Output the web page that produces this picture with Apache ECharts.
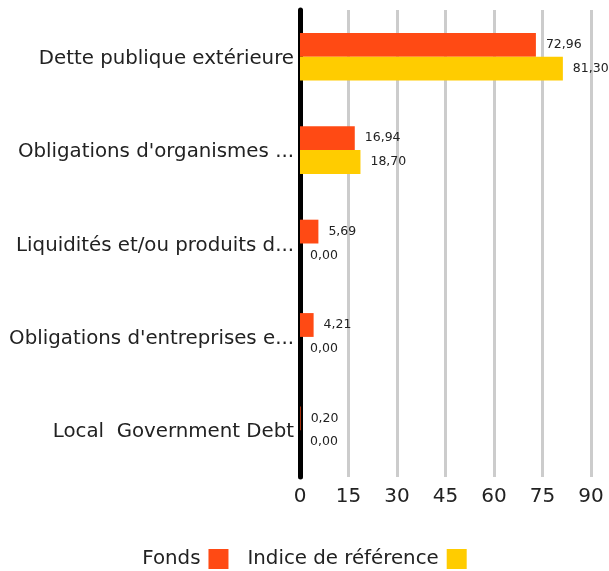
<!DOCTYPE html>
<html><head><meta charset="utf-8">
<script src="https://cdn.jsdelivr.net/npm/echarts@6/dist/echarts.min.js"></script>
<style>html,body{margin:0;padding:0;background:#fff}#c{width:609px;height:571px}</style>
</head><body><div id="c"></div>
<script>
const categories = ["Dette publique extérieure","Obligations d'organismes supranationaux","Liquidités et/ou produits dérivés","Obligations d'entreprises et assimilées","Local  Government Debt"];
const fonds = [72.96, 16.94, 5.69, 4.21, 0.20];
const indice = [81.30, 18.70, 0.00, 0.00, 0.00];
const xTicks = [0, 15, 30, 45, 60, 75, 90];
const seriesNames = ["Fonds", "Indice de référence"];

const font = "'DejaVu Sans', sans-serif";
const chart = echarts.init(document.getElementById('c'), null, {renderer:'canvas'});
const lbl = {show:true, position:'right', distance:10, fontSize:12.5, color:'#222', fontFamily:font,
  formatter: p => p.value.toFixed(2).replace('.', ',')};
chart.setOption({
  animation:false,
  grid:{left:300, right:18, top:10, bottom:94, containLabel:false},
  legend:{bottom:-3, left:'center', padding:[5,5,5,19], align:'right', itemWidth:20, itemHeight:20, itemGap:19,
    icon:'rect', textStyle:{fontSize:19.8, color:'#222', fontFamily:font, padding:[7,3,0,0]}, data:seriesNames},
  xAxis:{type:'value', min:xTicks[0], max:xTicks[xTicks.length-1], interval:15,
    axisLine:{show:false}, axisTick:{show:false},
    splitLine:{lineStyle:{color:'#cccccc', width:3}},
    axisLabel:{fontSize:20, color:'#222', margin:10, fontFamily:font}},
  yAxis:{type:'category', inverse:true, data:categories,
    axisLine:{lineStyle:{color:'#000', width:5}}, axisTick:{show:false},
    axisLabel:{fontSize:19.8, color:'#222', margin:6, fontFamily:font, width:289, overflow:'truncate', ellipsis:'...', lineHeight:30, verticalAlign:'top', padding:[-13,0,0,0]}},
  series:[
    {name:seriesNames[0], type:'bar', data:fonds, itemStyle:{color:'#FF4A14'}, barGap:'0%', barCategoryGap:'49%', label:lbl},
    {name:seriesNames[1], type:'bar', data:indice, itemStyle:{color:'#FFCC00'}, label:lbl}
  ]
});
</script></body></html>
